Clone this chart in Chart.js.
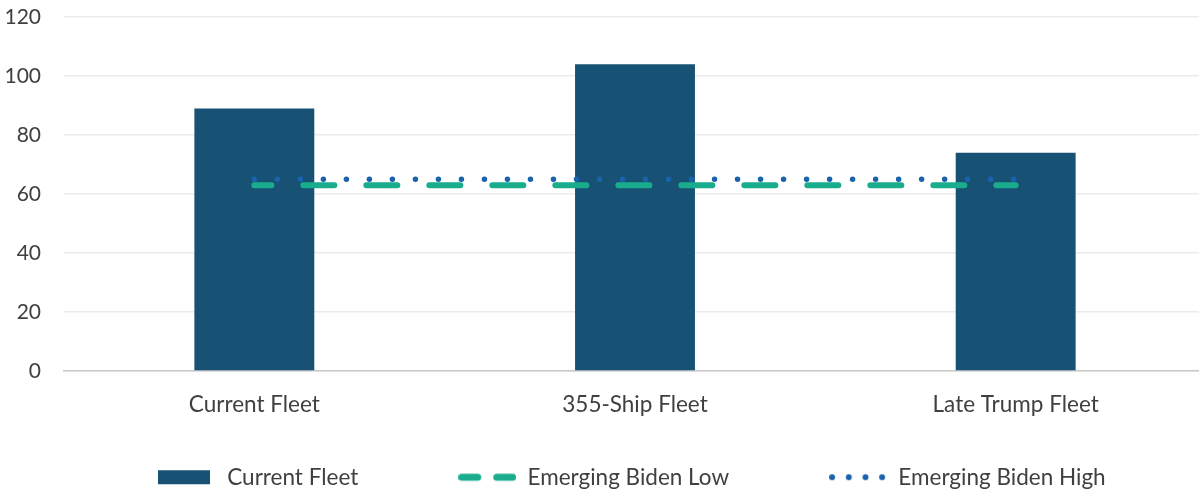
<!DOCTYPE html>
<html>
<head>
<meta charset="utf-8">
<script src="https://cdn.jsdelivr.net/npm/chart.js@4/dist/chart.umd.min.js"></script>
<style>
  html, body { margin: 0; padding: 0; background: #ffffff; overflow: hidden; }
  /* the plot bleeds a few pixels past the right edge of the page */
  #wrap { width: 1206px; height: 491px; position: relative; }
</style>
</head>
<body>
<div id="wrap"><canvas id="fleet"></canvas></div>
<script>
// Fleet sizes (number of ships) by plan
const categories = ['Current Fleet', '355-Ship Fleet', 'Late Trump Fleet'];
const currentFleet = [89, 104, 74];
const bidenLow = [63, 63, 63];
const bidenHigh = [65, 65, 65];
const yTicks = [0, 20, 40, 60, 80, 100, 120];

const BAR = '#175274';
const GREEN = '#1aad8d';
const BLUE = '#1a63ac';
const TEXT = '#404040';
const FONT = 'Lato, "Open Sans", sans-serif';

Chart.defaults.font.family = FONT;
Chart.defaults.color = TEXT;

// Legend symbols drawn on small canvases (58 x 16)
const SYM_W = 58, SYM_H = 16;
function symbol(draw) {
  const c = document.createElement('canvas');
  c.width = SYM_W; c.height = SYM_H;
  draw(c.getContext('2d'));
  return c;
}
const legendSymbols = [
  symbol(ctx => { ctx.fillStyle = BAR; ctx.fillRect(0, 1, 52, 14); }),
  symbol(ctx => {
    ctx.strokeStyle = GREEN; ctx.lineWidth = 7; ctx.lineCap = 'round';
    ctx.setLineDash([16, 19]);
    ctx.beginPath(); ctx.moveTo(3.5, 8); ctx.lineTo(54.5, 8); ctx.stroke();
  }),
  symbol(ctx => {
    ctx.fillStyle = BLUE;
    [3, 19.7, 36.4, 53].forEach(x => { ctx.beginPath(); ctx.arc(x, 8, 3, 0, Math.PI * 2); ctx.fill(); });
  })
];

const LEG_PAD = 100;
const LEG_X = 158;
const LEG_Y = 466;

new Chart(document.getElementById('fleet'), {
  data: {
    labels: categories,
    datasets: [
      {
        type: 'bar',
        label: 'Current Fleet',
        data: currentFleet,
        backgroundColor: BAR,
        borderWidth: 0,
        barPercentage: 0.315,
        categoryPercentage: 1.0,
        order: 3
      },
      {
        type: 'line',
        label: 'Emerging Biden Low',
        data: bidenLow,
        borderColor: GREEN,
        backgroundColor: GREEN,
        borderWidth: 6,
        borderDash: [31, 32],
        borderDashOffset: 14,
        borderCapStyle: 'round',
        pointRadius: 0,
        fill: false,
        order: 2
      },
      {
        type: 'line',
        label: 'Emerging Biden High',
        data: bidenHigh,
        borderColor: BLUE,
        backgroundColor: BLUE,
        borderWidth: 5.5,
        borderDash: [0.01, 23],
        borderCapStyle: 'round',
        pointRadius: 0,
        fill: false,
        order: 1
      }
    ]
  },
  options: {
    responsive: true,
    maintainAspectRatio: false,
    animation: false,
    layout: { padding: { left: 0, right: 0, top: 17, bottom: 0 } },
    scales: {
      x: {
        offset: true,
        grid: { display: false, drawTicks: false },
        border: { display: true, color: '#c9c9c9', width: 1.5 },
        ticks: { font: { size: 22.5 }, color: TEXT, padding: 20 },
        afterFit: (s) => { s.paddingLeft = 0; s.paddingRight = 0; s.height = 70; }
      },
      y: {
        min: 0,
        max: 120,
        afterBuildTicks: (axis) => { axis.ticks = yTicks.map(v => ({ value: v })); },
        grid: { color: '#ebebeb', lineWidth: 1.5, drawTicks: false },
        border: { display: false },
        ticks: { font: { size: 21 }, color: TEXT, padding: 23 },
        afterFit: (s) => { s.width = 64; s.paddingTop = 0; s.paddingBottom = 0; }
      }
    },
    plugins: {
      tooltip: { enabled: false },
      legend: {
        position: 'bottom',
        labels: {
          usePointStyle: true,
          pointStyleWidth: SYM_W,
          boxHeight: SYM_H,
          padding: LEG_PAD,
          font: { size: 22.5 },
          color: TEXT,
          generateLabels: (chart) => {
            const items = Chart.defaults.plugins.legend.labels.generateLabels(chart);
            items.sort((a, b) => a.datasetIndex - b.datasetIndex);
            items.forEach(it => {
              it.pointStyle = legendSymbols[it.datasetIndex];
              it.lineWidth = 0;
            });
            return items;
          }
        }
      }
    }
  },
  plugins: [{
    id: 'legendPlacement',
    beforeInit(chart) {
      const lg = chart.legend;
      const fit = lg.fit;
      lg.fit = function () {
        fit.call(this);
        this.height = 50;
      };
    },
    afterLayout(chart) {
      // put the single legend row at a fixed spot below the axis labels
      const lg = chart.legend;
      if (!lg || !lg.lineWidths) return;
      const w = lg.right - lg.left;
      const left = LEG_X - (w + LEG_PAD - lg.lineWidths[0]) / 2;
      lg.left = left;
      lg.right = left + w;
      lg.top = LEG_Y - LEG_PAD;
      lg.bottom = chart.height;
    }
  }]
});
</script>
</body>
</html>
